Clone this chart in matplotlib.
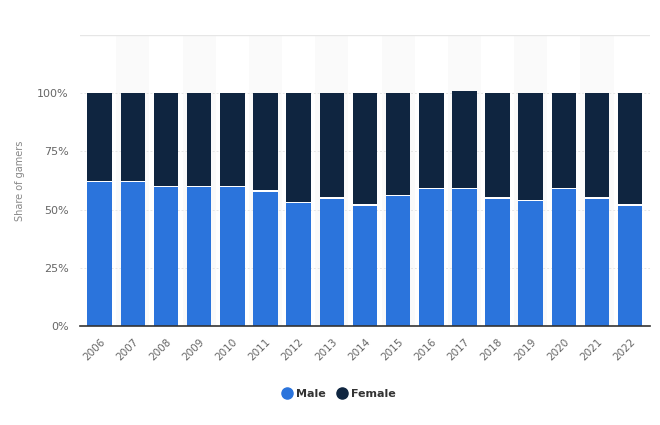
import matplotlib.pyplot as plt
import numpy as np

years = [str(y) for y in range(2006, 2023)]
male = [62, 62, 60, 60, 60, 58, 53, 55, 52, 56, 59, 59, 55, 54, 59, 55, 52]
female = [38, 38, 40, 40, 40, 42, 47, 45, 48, 44, 41, 42, 45, 46, 41, 45, 48]
y_ticks = [0, 25, 50, 75, 100, 125]
y_labels = ['0%', '25%', '50%', '75%', '100%', '']

male_color = '#2b74dc'
female_color = '#0f2540'

fig = plt.figure(figsize=(6.6, 4.25), dpi=100)
ax = fig.add_axes([0.121, 0.233, 0.864, 0.685])

x = np.arange(len(years))

# faint alternating column shading
for i in x:
    if i % 2 == 1:
        ax.axvspan(i - 0.5, i + 0.5, color='#fafafa', zorder=0, lw=0)

ax.bar(x, male, width=0.74, color=male_color, label='Male', zorder=3, linewidth=0)
ax.bar(x, female, width=0.74, bottom=male, color=female_color, label='Female',
       zorder=3, linewidth=0)
# thin white separator between segments
ax.bar(x, 0.6, width=0.74, bottom=np.array(male) - 0.3, color='white', zorder=4, lw=0)

ax.set_xlim(-0.6, len(years) - 0.4)
ax.set_ylim(0, 125)
ax.set_yticks(y_ticks)
ax.set_yticklabels(y_labels)
ax.yaxis.grid(True, color='#e6e6e6', linestyle=(0, (2, 2)), linewidth=0.7, zorder=1)
ax.axhline(125, color='#e6e6e6', linewidth=1, zorder=1)

for s in ['top', 'right', 'left']:
    ax.spines[s].set_visible(False)
ax.spines['bottom'].set_color('#333333')
ax.spines['bottom'].set_linewidth(1.2)
ax.spines['bottom'].set_zorder(5)

ax.set_xticks(x)
ax.set_xticklabels(years, rotation=45, ha='right', rotation_mode='anchor',
                   fontsize=7.5, color='#666666')
ax.tick_params(axis='both', length=0, pad=8)
ax.tick_params(axis='y', labelsize=8, colors='#666666', pad=8)
ax.set_ylabel('Share of gamers', fontsize=7, color='#888888', labelpad=9)

handles = [plt.Line2D([], [], marker='o', linestyle='', markersize=8, color=male_color),
           plt.Line2D([], [], marker='o', linestyle='', markersize=8, color=female_color)]
fig.legend(handles, ['Male', 'Female'], loc='center', bbox_to_anchor=(0.513, 0.073),
           ncol=2, frameon=False, handlelength=1.0, handletextpad=0.3,
           columnspacing=0.9, prop={'weight': 'bold', 'size': 8})
for t in fig.legends[0].get_texts():
    t.set_color('#333333')

fig.savefig('out.png', dpi=100, facecolor='white')
